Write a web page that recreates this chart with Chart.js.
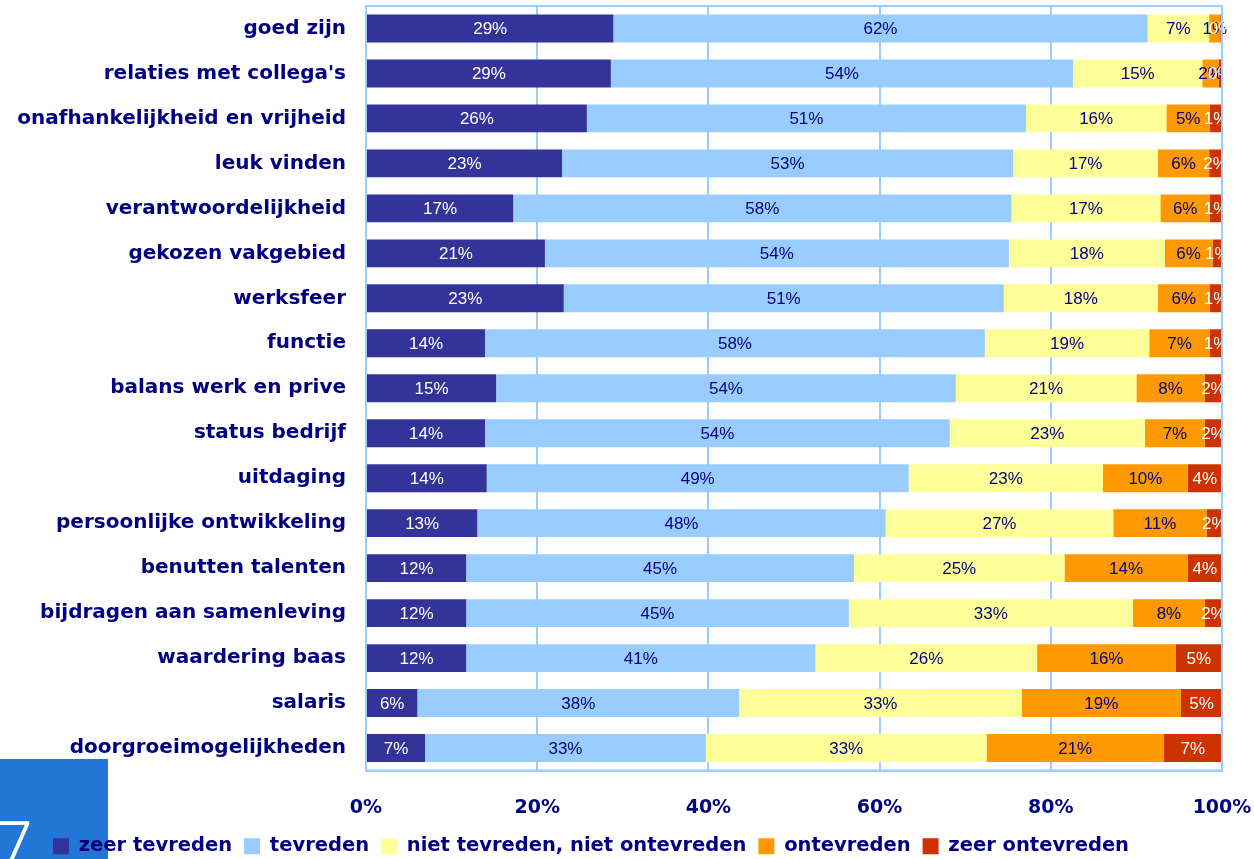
<!DOCTYPE html>
<html>
<head>
<meta charset="utf-8">
<script src="https://cdn.jsdelivr.net/npm/chart.js@4.4.1/dist/chart.umd.min.js"></script>
<style>
  html, body { margin: 0; padding: 0; background: #fff; }
  #wrap { position: relative; width: 1254px; height: 859px; overflow: hidden; }
  #slideTab { position: absolute; left: 0; top: 759px; width: 108px; height: 100px; background: #2176d6; overflow: hidden; z-index: 0; }
  #slideTab span { position: absolute; left: -12px; top: 48px; font-family: 'Open Sans', sans-serif; font-weight: 300; font-size: 80px; color: #fff; line-height: 80px; }
  #chartBox { position: absolute; left: 0; top: 0; width: 1254px; height: 859px; z-index: 1; }
</style>
</head>
<body>
<div id="wrap">
  <div id="slideTab"><span>7</span></div>
  <div id="chartBox"><canvas id="satisfactionChart"></canvas></div>
</div>
<script>
'use strict';

const categories = [
  'goed zijn', "relaties met collega's", 'onafhankelijkheid en vrijheid', 'leuk vinden',
  'verantwoordelijkheid', 'gekozen vakgebied', 'werksfeer', 'functie', 'balans werk en prive',
  'status bedrijf', 'uitdaging', 'persoonlijke ontwikkeling', 'benutten talenten',
  'bijdragen aan samenleving', 'waardering baas', 'salaris', 'doorgroeimogelijkheden'
];

const zeerTevreden   = [28.9, 28.6, 25.8, 22.9, 17.2, 20.9, 23.1, 13.9, 15.2, 13.9, 14.1, 13.0, 11.7, 11.7, 11.7, 6.0, 6.9];
const tevreden       = [62.4, 54.0, 51.3, 52.7, 58.2, 54.2, 51.4, 58.4, 53.7, 54.3, 49.3, 47.7, 45.3, 44.7, 40.8, 37.6, 32.8];
const neutraal       = [7.2, 15.1, 16.4, 16.9, 17.4, 18.2, 18.0, 19.2, 21.1, 22.8, 22.7, 26.6, 24.6, 33.2, 25.9, 33.0, 32.8];
const ontevreden     = [1.3, 1.9, 5.1, 6.0, 5.8, 5.6, 6.1, 7.1, 8.0, 7.0, 9.9, 10.9, 14.4, 8.4, 16.2, 18.6, 20.7];
const zeerOntevreden = [0.2, 0.4, 1.4, 1.5, 1.4, 1.1, 1.4, 1.4, 2.0, 2.0, 4.0, 1.8, 4.0, 2.0, 5.4, 4.8, 6.8];

const xTicks = [0, 20, 40, 60, 80, 100];

const navy = '#000080';
const gridBlue = '#99ccff';

// value labels inside the bar segments
const segmentLabels = {
  id: 'segmentLabels',
  afterDatasetsDraw(chart) {
    const ctx = chart.ctx;
    ctx.save();
    ctx.font = '17px "Liberation Sans", Arial, sans-serif';
    ctx.textAlign = 'center';
    ctx.textBaseline = 'middle';
    chart.data.datasets.forEach((ds, i) => {
      const meta = chart.getDatasetMeta(i);
      ctx.fillStyle = ds.labelColor;
      meta.data.forEach((bar, j) => {
        const cx = (bar.x + bar.base) / 2;
        ctx.fillText(Math.round(ds.data[j]) + '%', cx, bar.y + 1);
      });
    });
    ctx.restore();
  }
};

// light blue frame round the plot + legend nudge
const plotFrame = {
  id: 'plotFrame',
  afterLayout(chart) {
    const lg = chart.legend;
    if (lg) {
      lg.left -= 20; lg.right -= 20;
      lg.top += 7; lg.bottom += 7;
    }
  },
  afterDraw(chart) {
    const a = chart.chartArea;
    const ctx = chart.ctx;
    ctx.save();
    ctx.strokeStyle = gridBlue;
    ctx.lineWidth = 2;
    ctx.strokeRect(a.left, a.top, a.right - a.left, a.bottom - a.top);
    ctx.restore();
  }
};

// no extra room for half tick labels, the plot keeps its own edges
function noLabelPadding(scale) {
  scale.paddingTop = 0;
  scale.paddingBottom = 0;
  scale.paddingLeft = 0;
  scale.paddingRight = 0;
}

const ctx = document.getElementById('satisfactionChart').getContext('2d');
new Chart(ctx, {
  type: 'bar',
  data: {
    labels: categories,
    datasets: [
      { label: 'zeer tevreden', data: zeerTevreden, backgroundColor: '#333399', labelColor: '#ffffff' },
      { label: 'tevreden', data: tevreden, backgroundColor: '#99ccff', labelColor: navy },
      { label: 'niet tevreden, niet ontevreden', data: neutraal, backgroundColor: '#ffff99', labelColor: navy },
      { label: 'ontevreden', data: ontevreden, backgroundColor: '#ff9900', labelColor: navy },
      { label: 'zeer ontevreden', data: zeerOntevreden, backgroundColor: '#cc3300', labelColor: '#ffffff' }
    ]
  },
  options: {
    indexAxis: 'y',
    responsive: true,
    maintainAspectRatio: false,
    animation: false,
    layout: { autoPadding: false, padding: { top: 6, right: 32, left: 0, bottom: 0 } },
    datasets: {
      bar: { categoryPercentage: 1, barPercentage: 0.62, borderWidth: 0 }
    },
    plugins: {
      legend: {
        display: true,
        position: 'bottom',
        labels: {
          boxWidth: 16,
          boxHeight: 16,
          padding: 12,
          color: navy,
          font: { family: '"DejaVu Sans", sans-serif', size: 19.5, weight: 'bold' }
        }
      },
      tooltip: { enabled: false }
    },
    scales: {
      x: {
        stacked: true,
        min: 0,
        max: 100,
        afterBuildTicks: scale => { scale.ticks = xTicks.map(v => ({ value: v })); },
        afterFit: scale => { scale.height = 47; noLabelPadding(scale); },
        ticks: {
          padding: 26,
          color: navy,
          font: { family: '"DejaVu Sans", sans-serif', size: 19, weight: 'bold' },
          callback: v => v + '%'
        },
        grid: { color: gridBlue, lineWidth: 2, drawTicks: false },
        border: { color: gridBlue, width: 2 }
      },
      y: {
        stacked: true,
        afterFit: scale => { scale.width = 366; noLabelPadding(scale); },
        ticks: {
          padding: 20,
          color: navy,
          font: { family: '"DejaVu Sans", sans-serif', size: 20, weight: 'bold' }
        },
        grid: { display: false, drawTicks: false },
        border: { color: gridBlue, width: 2 }
      }
    }
  },
  plugins: [segmentLabels, plotFrame]
});
</script>
</body>
</html>
